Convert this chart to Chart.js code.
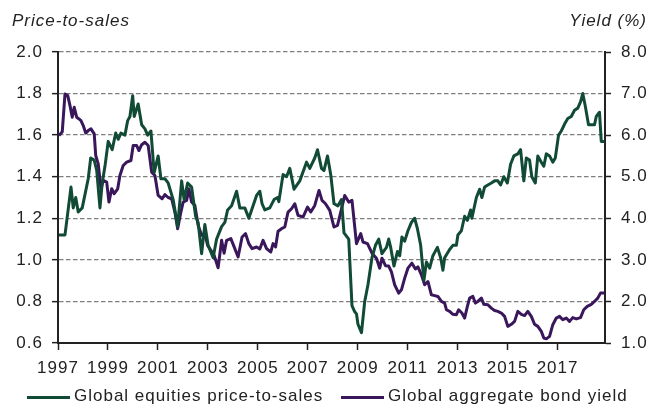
<!DOCTYPE html>
<html>
<head>
<meta charset="utf-8">
<script src="https://cdn.jsdelivr.net/npm/chart.js@4/dist/chart.umd.min.js"></script>
<style>
  body { margin: 0; background: #fff; }
  #wrap { position: relative; width: 654px; height: 408px; }
  .ttl { position: absolute; top: 11px; font: italic 17px "Liberation Sans", Arial, sans-serif; letter-spacing: 1px; color: #222; }
  .leg { position: absolute; top: 386px; height: 20px; font: 17px/20px "Liberation Sans", Arial, sans-serif; letter-spacing: 1px; color: #222; white-space: nowrap; }
  .leg i { position: absolute; left: 0; top: 10px; width: 43px; height: 3px; }
  .leg span { position: absolute; left: 47px; top: 0; }
</style>
</head>
<body>
<div id="wrap">
  <canvas id="chart"></canvas>
  <div class="ttl" style="left:12px">Price-to-sales</div>
  <div class="ttl" style="right:7px">Yield (%)</div>
</div>
<script>
// global equities price-to-sales (left axis)
const psYears = [1997.04,1997.28,1997.52,1997.61,1997.71,1997.81,1997.97,1998.21,1998.31,1998.45,1998.55,1998.68,1998.77,1998.88,1999.01,1999.17,1999.31,1999.41,1999.52,1999.68,1999.79,1999.88,1999.99,2000.05,2000.21,2000.35,2000.48,2000.59,2000.72,2000.85,2001.01,2001.12,2001.28,2001.41,2001.61,2001.79,2001.95,2002.05,2002.19,2002.35,2002.51,2002.61,2002.75,2002.88,2003.01,2003.21,2003.35,2003.55,2003.68,2003.79,2003.95,2004.15,2004.28,2004.48,2004.64,2004.81,2004.95,2005.08,2005.17,2005.28,2005.48,2005.65,2005.79,2005.84,2006.01,2006.15,2006.28,2006.45,2006.68,2006.95,2007.08,2007.28,2007.39,2007.55,2007.65,2007.79,2007.92,2008.05,2008.21,2008.35,2008.45,2008.64,2008.77,2008.88,2008.95,2009.01,2009.15,2009.28,2009.41,2009.57,2009.71,2009.84,2009.97,2010.15,2010.24,2010.32,2010.45,2010.59,2010.68,2010.77,2010.88,2011.01,2011.15,2011.28,2011.39,2011.52,2011.65,2011.75,2011.88,2012.01,2012.19,2012.32,2012.41,2012.48,2012.68,2012.81,2012.95,2013.01,2013.15,2013.28,2013.39,2013.52,2013.57,2013.75,2013.88,2013.97,2014.08,2014.21,2014.35,2014.48,2014.61,2014.72,2014.85,2014.99,2015.12,2015.25,2015.41,2015.52,2015.65,2015.75,2015.88,2015.97,2016.11,2016.21,2016.35,2016.45,2016.55,2016.68,2016.81,2016.91,2017.04,2017.15,2017.31,2017.41,2017.55,2017.68,2017.81,2017.92,2018.01,2018.11,2018.24,2018.37,2018.48,2018.55,2018.68,2018.75,2018.88];
const psValues = [1.12,1.12,1.35,1.25,1.30,1.23,1.25,1.39,1.49,1.48,1.43,1.25,1.37,1.45,1.57,1.53,1.61,1.58,1.61,1.60,1.67,1.69,1.79,1.69,1.75,1.65,1.63,1.60,1.62,1.42,1.50,1.39,1.39,1.37,1.29,1.16,1.38,1.29,1.37,1.35,1.21,1.18,1.03,1.17,1.07,1.01,1.10,1.16,1.18,1.24,1.26,1.33,1.25,1.25,1.20,1.26,1.31,1.33,1.27,1.24,1.25,1.29,1.30,1.28,1.41,1.40,1.44,1.34,1.38,1.47,1.44,1.49,1.53,1.44,1.43,1.50,1.41,1.27,1.26,1.29,1.13,1.10,0.78,0.75,0.74,0.69,0.65,0.80,0.88,1.01,1.07,1.10,1.03,1.06,1.10,1.06,0.97,1.04,1.02,1.11,1.09,1.14,1.18,1.20,1.15,1.07,0.90,0.99,0.96,1.02,1.06,1.01,0.95,1.01,1.05,1.07,1.07,1.12,1.14,1.21,1.19,1.24,1.20,1.30,1.34,1.30,1.35,1.36,1.37,1.38,1.38,1.36,1.40,1.37,1.46,1.50,1.51,1.53,1.38,1.49,1.48,1.40,1.37,1.50,1.47,1.45,1.51,1.50,1.47,1.49,1.60,1.62,1.66,1.68,1.69,1.72,1.73,1.76,1.80,1.74,1.65,1.65,1.65,1.69,1.71,1.57,1.57];

// global aggregate bond yield, % (right axis)
const yieldYears = [1997.04,1997.17,1997.28,1997.39,1997.48,1997.57,1997.65,1997.75,1997.84,1997.92,1998.01,1998.11,1998.21,1998.32,1998.45,1998.51,1998.61,1998.72,1998.81,1998.95,1999.04,1999.15,1999.25,1999.39,1999.48,1999.61,1999.75,1999.92,2000.01,2000.15,2000.24,2000.35,2000.48,2000.61,2000.75,2000.88,2001.01,2001.17,2001.28,2001.41,2001.55,2001.68,2001.79,2001.92,2002.01,2002.15,2002.24,2002.35,2002.48,2002.61,2002.75,2002.88,2002.99,2003.12,2003.25,2003.41,2003.55,2003.65,2003.75,2003.92,2004.08,2004.21,2004.37,2004.51,2004.64,2004.77,2004.95,2005.08,2005.21,2005.35,2005.52,2005.61,2005.71,2005.81,2005.95,2006.08,2006.21,2006.35,2006.48,2006.61,2006.81,2006.99,2007.12,2007.28,2007.45,2007.57,2007.71,2007.88,2008.05,2008.19,2008.32,2008.48,2008.64,2008.77,2008.95,2009.12,2009.21,2009.39,2009.57,2009.75,2009.88,2009.97,2010.11,2010.24,2010.35,2010.48,2010.64,2010.75,2010.88,2011.01,2011.17,2011.31,2011.41,2011.55,2011.68,2011.81,2011.95,2012.08,2012.21,2012.35,2012.48,2012.55,2012.68,2012.81,2012.95,2013.04,2013.17,2013.28,2013.39,2013.48,2013.61,2013.71,2013.81,2013.95,2014.05,2014.21,2014.35,2014.48,2014.61,2014.75,2014.88,2015.01,2015.15,2015.28,2015.41,2015.55,2015.68,2015.81,2015.95,2016.08,2016.21,2016.35,2016.45,2016.55,2016.68,2016.81,2016.95,2017.08,2017.21,2017.35,2017.48,2017.61,2017.75,2017.92,2018.05,2018.19,2018.35,2018.48,2018.61,2018.72,2018.88];
const yieldValues = [5.99,6.08,6.99,6.95,6.71,6.43,6.67,6.43,6.39,6.35,6.23,6.05,6.11,6.15,6.03,5.51,5.31,4.71,4.91,4.87,4.39,4.71,4.59,4.71,5.03,5.27,5.35,5.39,5.75,5.75,5.63,5.77,5.83,5.75,5.11,5.03,4.55,4.47,4.57,4.50,4.47,4.15,3.75,4.15,4.39,4.43,4.71,4.39,4.31,3.83,3.59,3.63,3.35,3.23,3.11,2.81,3.47,3.16,3.47,3.51,3.27,3.07,3.55,3.63,3.39,3.27,3.31,3.26,3.47,3.27,3.19,3.39,3.31,3.69,3.75,3.79,4.15,4.23,4.35,4.07,4.03,4.27,4.15,4.31,4.67,4.43,4.35,4.19,3.79,3.83,4.15,4.55,4.39,4.43,3.39,3.63,3.43,3.39,3.16,3.04,2.80,3.04,2.86,2.85,2.71,2.40,2.20,2.28,2.56,2.80,2.92,2.78,2.83,2.64,2.40,2.48,2.16,2.14,2.12,2.00,1.96,1.80,1.76,1.69,1.68,1.80,1.72,1.60,1.88,2.08,2.12,1.96,2.00,2.08,1.93,1.92,1.84,1.78,1.76,1.72,1.64,1.40,1.45,1.52,1.76,1.69,1.66,1.76,1.64,1.45,1.40,1.28,1.12,1.10,1.16,1.44,1.60,1.64,1.56,1.60,1.52,1.61,1.58,1.61,1.80,1.88,1.93,2.00,2.08,2.20,2.20];

const yearTicks = [1997,1999,2001,2003,2005,2007,2009,2011,2013,2015,2017];
const psTicks = [0.6,0.8,1.0,1.2,1.4,1.6,1.8,2.0];
const yieldTicks = [1,2,3,4,5,6,7,8];
const seriesLabels = ['Global equities price-to-sales', 'Global aggregate bond yield'];

const green = '#114a35';
const purple = '#3a165b';
const ink = '#222222';
const fontFamily = '"Liberation Sans", Arial, sans-serif';

// the source uses slightly tracked text
const spacing = {
  id: 'spacing',
  beforeLayout(chart) { chart.ctx.letterSpacing = '1px'; },
  beforeDraw(chart) { chart.ctx.letterSpacing = '1px'; }
};

const ctx = document.getElementById('chart');
const chart = new Chart(ctx, {
  type: 'line',
  data: {
    datasets: [
      {
        label: seriesLabels[0],
        data: psYears.map((x, i) => ({ x: x, y: psValues[i] })),
        yAxisID: 'y',
        borderColor: green,
        backgroundColor: green,
        borderWidth: 3,
        pointRadius: 0,
        tension: 0,
        borderJoinStyle: 'round'
      },
      {
        label: seriesLabels[1],
        data: yieldYears.map((x, i) => ({ x: x, y: yieldValues[i] })),
        yAxisID: 'y2',
        borderColor: purple,
        backgroundColor: purple,
        borderWidth: 3,
        pointRadius: 0,
        tension: 0,
        borderJoinStyle: 'round'
      }
    ]
  },
  options: {
    responsive: true,
    maintainAspectRatio: false,
    animation: false,
    layout: { padding: { top: 52, left: 0, right: 0, bottom: 0 } },
    font: { family: fontFamily, size: 17 },
    plugins: {
      tooltip: { enabled: false },
      legend: { display: false }
    },
    scales: {
      x: {
        type: 'linear',
        min: 1997,
        max: 2018.9,
        afterBuildTicks: (scale) => { scale.ticks = yearTicks.map(v => ({ value: v })); },
        afterFit: (scale) => { scale.height = 65; },
        ticks: {
          color: ink,
          font: { family: fontFamily, size: 17 },
          maxRotation: 0,
          autoSkip: false,
          padding: 8,
          callback: (v) => String(v)
        },
        grid: { drawOnChartArea: false, drawTicks: true, tickLength: 7, tickColor: ink, tickWidth: 1.5 },
        border: { color: ink, width: 2 }
      },
      y: {
        position: 'left',
        min: 0.6,
        max: 2.0,
        afterBuildTicks: (scale) => { scale.ticks = psTicks.map(v => ({ value: v })); },
        afterFit: (scale) => { scale.width = 58; },
        ticks: {
          color: ink,
          font: { family: fontFamily, size: 17 },
          padding: 9,
          callback: (v) => v.toFixed(1)
        },
        grid: { color: '#7f7f7f', lineWidth: 1.3, tickLength: 6, tickColor: ink, tickWidth: 1.5 },
        border: { color: ink, width: 2, dash: [4.5, 2.5] }
      },
      y2: {
        position: 'right',
        min: 1,
        max: 8,
        afterBuildTicks: (scale) => { scale.ticks = yieldTicks.map(v => ({ value: v })); },
        afterFit: (scale) => { scale.width = 49; },
        ticks: {
          color: ink,
          font: { family: fontFamily, size: 17 },
          padding: 10,
          callback: (v) => v.toFixed(1)
        },
        grid: { drawOnChartArea: false, tickLength: 6, tickColor: ink, tickWidth: 1.5 },
        border: { color: ink, width: 2 }
      }
    }
  },
  plugins: [spacing]
});

// legend below the axis, built from the datasets
const legendLeft = [27, 341];
const wrap = document.getElementById('wrap');
chart.data.datasets.forEach((ds, i) => {
  const item = document.createElement('div');
  item.className = 'leg';
  item.style.left = legendLeft[i] + 'px';
  const swatch = document.createElement('i');
  swatch.style.background = ds.borderColor;
  const text = document.createElement('span');
  text.textContent = ds.label;
  item.appendChild(swatch);
  item.appendChild(text);
  wrap.appendChild(item);
});
</script>
</body>
</html>
